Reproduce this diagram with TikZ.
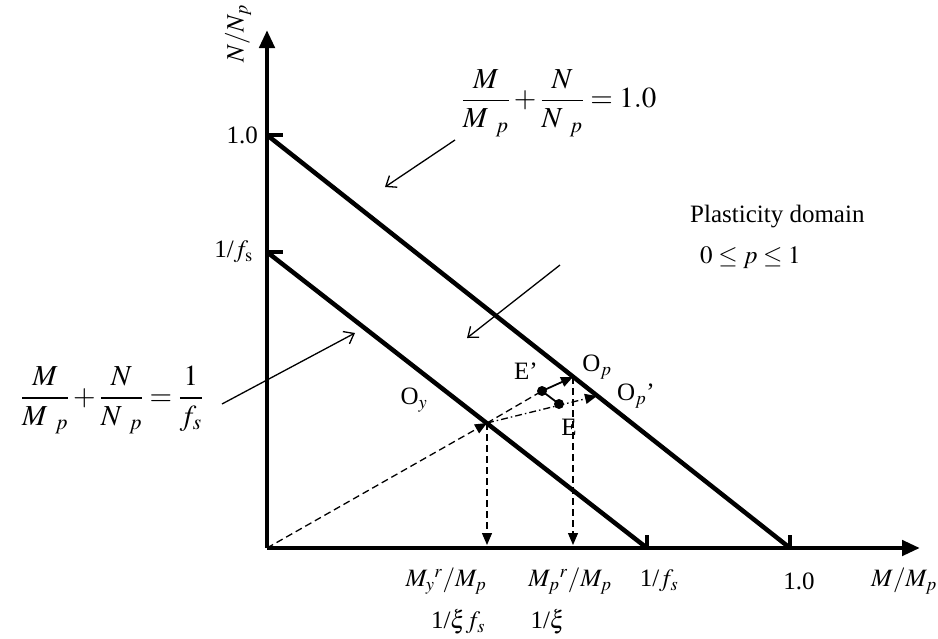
\documentclass[tikz,border=0pt]{standalone}
\usepackage{mathptmx}
\usepackage{fontspec}
\setmainfont{Liberation Serif}
\usetikzlibrary{arrows.meta}
\begin{document}
\begin{tikzpicture}[x=1pt,y=-1pt,
  axis/.style={line width=4.5pt,-{Triangle[length=18pt,width=15pt]}},
  limitline/.style={line width=4.5pt},
  tickmark/.style={line width=4pt},
  pointer/.style={line width=1.3pt,-{Straight Barb[length=9pt,width=14pt]}},
  dashedarrow/.style={line width=1.3pt,dash pattern=on 7pt off 4pt,-{Triangle[length=12pt,width=10pt]}},
  dashedline/.style={line width=1.3pt,dash pattern=on 7pt off 4pt},
  dashdotarrow/.style={line width=1.3pt,dash pattern=on 7pt off 3pt on 1.5pt off 3pt,-{Triangle[length=12pt,width=10pt]}},
  solidarrow/.style={line width=1.8pt,-{Triangle[length=12pt,width=10pt]}},
  lbl/.style={font=\fontsize{25}{29}\selectfont, inner sep=0pt},
  eqn/.style={font=\fontsize{29}{35}\selectfont, inner sep=0pt},
  dot/.style={circle,fill,inner sep=0pt,minimum size=10pt}
]
\useasboundingbox (0,0) rectangle (938,638);
% key points
\coordinate (O) at (267,548);
\coordinate (Ytop) at (267,30);
\coordinate (Xend) at (920,548);
\coordinate (Y1) at (267,135);
\coordinate (Yfs) at (267,252);
\coordinate (X1) at (790,548);
\coordinate (Xfs) at (647,548);
\coordinate (AxTop) at (267,545);
\coordinate (Oy) at (487,423);
\coordinate (Op) at (573,377);
\coordinate (Opp) at (597,396);
\coordinate (Ep) at (542,391);
\coordinate (Ee) at (559,404);
% axes
\draw[axis] (O) -- (Ytop);
\draw[axis] (O) -- (Xend);
% ticks
\draw[tickmark] (Y1) -- ++(16,0);
\draw[tickmark] (Yfs) -- ++(16,0);
\draw[tickmark] (X1) -- ++(0,-13);
\draw[tickmark] (Xfs) -- ++(0,-13);
% limit lines
\draw[limitline] (Y1) -- (X1);
\draw[limitline] (Yfs) -- (Xfs);
% construction lines
\draw[dashedarrow] (O) -- (Oy);
\draw[dashedline] (Oy) -- (Ep);
\draw[dashdotarrow] (Oy) -- (Opp);
\draw[dashedarrow] (Oy) -- (Oy |- AxTop);
\draw[dashedarrow] (Op) -- (Op |- AxTop);
\draw[line width=1.8pt] (Ee) -- (Ep);
\draw[solidarrow] (Ep) -- (Op);
\node[dot] (Edot) at (Ee) {};
\node[dot] (Epdot) at (Ep) {};
% point labels
\node[lbl] (lOy) at (414,400) {O$_y$};
\node[lbl] (lEp) at (526,371) {E’};
\node[lbl] (lE) at (569,427) {E};
\node[lbl] (lOp) at (597,367) {O$_p$};
\node[lbl] (lOpp) at (636,396) {O$_p$’};
% axis labels
\node[lbl,rotate=90] (lN) at (238,34) {$N/N_p$};
\node[lbl,anchor=east] (l1y) at (258,135) {1.0};
\node[lbl,anchor=east] (lfsy) at (253,252) {1/$f_{\mathrm{s}}$};
\node[lbl] (lMy) at (446,581) {$M_y{}^{r}/M_p$};
\node[lbl] (lMpr) at (570,581) {$M_p{}^{r}/M_p$};
\node[lbl] (lfsx) at (659,581) {1/$f_s$};
\node[lbl] (l1x) at (799,581) {1.0};
\node[lbl] (lMM) at (904,581) {$M/M_p$};
\node[lbl] (lxi1) at (458,622) {1/$\xi f_s$};
\node[lbl] (lxi2) at (548,622) {1/$\xi$};
% equations
\node[eqn] (eqtop) at (559,103) {$\displaystyle \frac{M}{M_{\mkern8mu p}}+\frac{N}{N_{\mkern8mu p}}=1.0$};
\node[eqn] (eqleft) at (112,400) {$\displaystyle \frac{M}{M_{\mkern8mu p}}+\frac{N}{N_{\mkern8mu p}}=\frac{1}{f_s}$};
\node[lbl,anchor=west] (pd) at (690,217) {Plasticity domain};
\node[lbl,anchor=west] (pr) at (700,258) {$0\le p\le 1$};
% pointers
\coordinate (ptA) at (455,140);
\coordinate (ptAe) at (385,187);
\coordinate (ptB) at (222,404);
\coordinate (ptBe) at (355,333);
\coordinate (ptC) at (560,265);
\coordinate (ptCe) at (467,338);
\draw[pointer] (ptA) -- (ptAe);
\draw[pointer] (ptB) -- (ptBe);
\draw[pointer] (ptC) -- (ptCe);
\end{tikzpicture}
\end{document}
